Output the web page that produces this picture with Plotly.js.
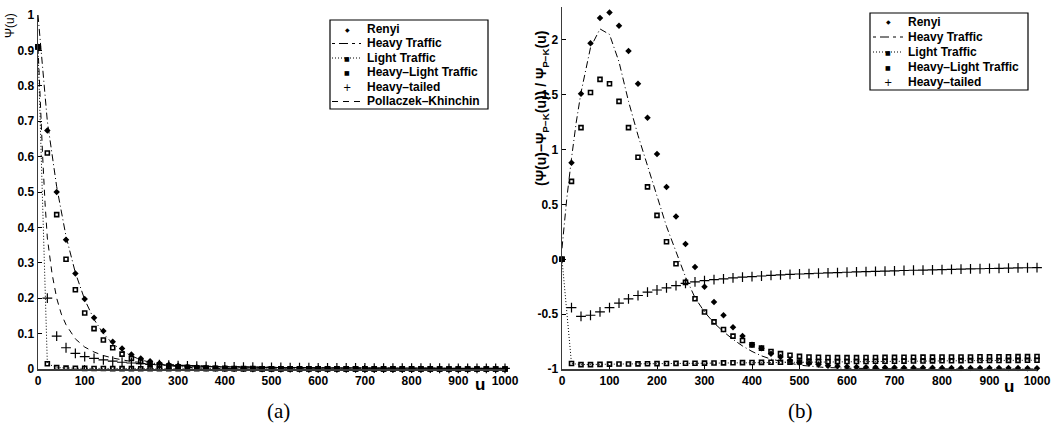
<!DOCTYPE html>
<html>
<head>
<meta charset="utf-8">
<script src="https://cdn.plot.ly/plotly-3.0.1.min.js"></script>
<style>html,body{margin:0;padding:0;background:#fff;}#chart{width:1058px;height:437px;}</style>
</head>
<body>
<div id="chart"></div>
<script>
// ---------- data ----------
const u = [0,20,40,60,80,100,120,140,160,180,200,220,240,260,280,300,320,340,360,380,400,420,440,460,480,500,520,540,560,580,600,620,640,660,680,700,720,740,760,780,800,820,840,860,880,900,920,940,960,980,1000];

// (a) ruin probability Psi(u)
const psiRenyi = [0.91,0.674,0.50,0.365,0.27,0.198,0.145,0.107,0.077,0.058,0.041,0.030,0.022,0.016,0.012,0.009,0.0065,0.005,0.0035,0.0026,0.002,0.0015,0.0011,0.0008,0.0006,0.0005,0.0004,0.0003,0.0003,0.0002,0.0002,0.0002,0.0001,0.0001,0.0001,0.0001,0.0001,0.0001,0.0001,0.0001,0.0001,0.0001,0.0001,0.0001,0.0001,0.0001,0.0001,0.0001,0.0001,0.0001,0.0001];
const psiHeavyLight = [0.91,0.61,0.436,0.31,0.224,0.158,0.114,0.082,0.06,0.042,0.03,0.021,0.015,0.011,0.008,0.006,0.0045,0.0035,0.0027,0.0021,0.0017,0.0014,0.0012,0.001,0.0009,0.0008,0.0007,0.0007,0.0006,0.0006,0.0005,0.0005,0.0005,0.0004,0.0004,0.0004,0.0004,0.0003,0.0003,0.0003,0.0003,0.0003,0.0003,0.0002,0.0002,0.0002,0.0002,0.0002,0.0002,0.0002,0.0002];
const psiLight = [0.91,0.015,0.004,0.0025,0.002,0.0017,0.0015,0.0013,0.0012,0.0011,0.001,0.0009,0.0009,0.0008,0.0008,0.0007,0.0007,0.0006,0.0006,0.0006,0.0005,0.0005,0.0005,0.0005,0.0004,0.0004,0.0004,0.0004,0.0004,0.0003,0.0003,0.0003,0.0003,0.0003,0.0003,0.0003,0.0002,0.0002,0.0002,0.0002,0.0002,0.0002,0.0002,0.0002,0.0002,0.0002,0.0001,0.0001,0.0001,0.0001,0.0001];
const psiHeavyTailed = [null,0.2,0.093,0.06,0.044,0.035,0.03,0.026,0.022,0.019,0.017,0.015,0.013,0.012,0.011,0.0095,0.0088,0.008,0.0073,0.0067,0.0062,0.0058,0.0054,0.005,0.0047,0.0044,0.0042,0.004,0.0038,0.0036,0.0034,0.0033,0.0031,0.003,0.0029,0.0028,0.0027,0.0026,0.0025,0.0024,0.0023,0.0022,0.0022,0.0021,0.002,0.002,0.0019,0.0019,0.0018,0.0018,0.0017];
const psiHeavy = [1.0,0.70,0.515,0.375,0.272,0.196,0.14,0.10,0.072,0.052,0.037,0.026,0.019,0.013,0.0095,0.0067,0.0048,0.0034,0.0024,0.0017,0.0012,0.0009,0.0006,0.0004,0.0003,0.0002,0.0002,0.0001,0.0001,0.0001,0,0,0,0,0,0,0,0,0,0,0,0,0,0,0,0,0,0,0,0,0];
const uPK = [0,5,10,15,20,30,40,50,60,80,100,120,140,160,180,200,250,300,400,500,600,700,800,900,1000];
const psiPK = [0.91,0.74,0.60,0.47,0.37,0.27,0.20,0.155,0.125,0.085,0.062,0.048,0.038,0.031,0.026,0.021,0.015,0.011,0.0068,0.0047,0.0035,0.0027,0.0021,0.0017,0.0014];

// (b) relative difference to Pollaczek-Khinchin
const relRenyi = [0,0.88,1.51,1.97,2.20,2.25,2.13,1.90,1.60,1.29,0.96,0.66,0.39,0.14,-0.07,-0.25,-0.39,-0.51,-0.62,-0.70,-0.78,-0.81,-0.86,-0.89,-0.92,-0.94,-0.95,-0.96,-0.97,-0.975,-0.98,-0.982,-0.984,-0.985,-0.986,-0.987,-0.988,-0.988,-0.989,-0.989,-0.99,-0.99,-0.99,-0.991,-0.991,-0.991,-0.992,-0.992,-0.992,-0.993,-0.993];
const relHeavyLight = [0,0.71,1.20,1.52,1.64,1.60,1.44,1.20,0.93,0.66,0.40,0.16,-0.04,-0.21,-0.36,-0.48,-0.57,-0.64,-0.70,-0.74,-0.78,-0.81,-0.84,-0.86,-0.875,-0.885,-0.89,-0.893,-0.895,-0.896,-0.896,-0.896,-0.895,-0.895,-0.894,-0.894,-0.893,-0.893,-0.892,-0.892,-0.891,-0.891,-0.89,-0.89,-0.889,-0.889,-0.888,-0.888,-0.887,-0.887,-0.886];
const relLight = [0,-0.95,-0.96,-0.96,-0.958,-0.956,-0.955,-0.954,-0.953,-0.952,-0.951,-0.95,-0.949,-0.948,-0.947,-0.946,-0.945,-0.944,-0.943,-0.942,-0.941,-0.94,-0.939,-0.938,-0.937,-0.936,-0.935,-0.934,-0.934,-0.933,-0.932,-0.931,-0.931,-0.93,-0.929,-0.929,-0.928,-0.927,-0.927,-0.926,-0.925,-0.925,-0.924,-0.923,-0.923,-0.922,-0.922,-0.921,-0.921,-0.92,-0.92];
const relHeavyTailed = [null,-0.44,-0.52,-0.51,-0.48,-0.44,-0.40,-0.36,-0.33,-0.30,-0.28,-0.26,-0.24,-0.22,-0.205,-0.195,-0.185,-0.178,-0.17,-0.163,-0.157,-0.152,-0.147,-0.142,-0.138,-0.134,-0.13,-0.127,-0.124,-0.121,-0.118,-0.115,-0.112,-0.11,-0.107,-0.105,-0.102,-0.10,-0.098,-0.096,-0.094,-0.092,-0.09,-0.088,-0.086,-0.084,-0.082,-0.08,-0.078,-0.077,-0.075];
const uHeavyRel = [0,10,20,30,40,60,80,100,120,140,160,180,200,220,240,260,280,300,320,340,360,380,400,420,440,460,480,500,550,600,700,800,900,1000];
const relHeavy = [0.10,0.55,0.92,1.25,1.52,1.93,2.10,2.05,1.80,1.44,1.13,0.85,0.57,0.30,0.07,-0.16,-0.35,-0.48,-0.58,-0.66,-0.73,-0.79,-0.84,-0.88,-0.91,-0.93,-0.95,-0.965,-0.985,-0.993,-0.998,-1.0,-1.0,-1.0];

const xTicks = [0,100,200,300,400,500,600,700,800,900,1000];
const yTicksA = [0,0.1,0.2,0.3,0.4,0.5,0.6,0.7,0.8,0.9,1];
const yTickTextA = ['0','0.1','0.2','0.3','0.4','0.5','0.6','0.7','0.8','0.9','1'];
const yTicksB = [-1,-0.5,0,0.5,1,1.5,2];
const yTickTextB = ['-1','-0.5','0','0.5','1','1.5','2'];

const namesA = ['Renyi','Heavy Traffic','Light Traffic','Heavy\u2013Light Traffic','Heavy\u2013tailed','Pollaczek\u2013Khinchin'];
const namesB = ['Renyi','Heavy Traffic','Light Traffic','Heavy\u2013Light Traffic','Heavy\u2013tailed'];

// ---------- styling ----------
const W = 1058, H = 437;
const FONT = 'Liberation Sans, Arial, Helvetica, sans-serif';
const tickFont = {family: FONT, size: 12, color: '#000', weight: 'bold'};
const mk = {
  diamond: {symbol: 'diamond', size: 5, color: '#000'},
  square: {symbol: 'square-open', size: 4, color: '#000', line: {width: 1.6, color: '#000'}},
  plus: {symbol: 'cross-thin-open', size: 7, color: '#000', line: {width: 1.2, color: '#000'}}
};
function px(x){ return x / W; }
function py(y){ return 1 - y / H; }

function panel(xa, ya, sets) {
  return sets.map(s => Object.assign({xaxis: xa, yaxis: ya, cliponaxis: false, hoverinfo: 'skip'}, s));
}

const traces = []
.concat(panel('x','y',[
  {x: uPK, y: psiPK, mode: 'lines', line: {color: '#000', width: 1, dash: '6px,5px'}},
  {x: u, y: psiHeavy, mode: 'lines', line: {color: '#000', width: 1, dash: '7px,3px,1px,3px'}},
  {x: u, y: psiLight, mode: 'lines+markers', line: {color: '#000', width: 1, dash: '1px,2px'}, marker: mk.square},
  {x: u, y: psiHeavyLight, mode: 'markers', marker: mk.square},
  {x: u, y: psiHeavyTailed, mode: 'markers', marker: mk.plus},
  {x: u, y: psiRenyi, mode: 'markers', marker: mk.diamond}
]))
.concat(panel('x2','y2',[
  {x: uHeavyRel, y: relHeavy, mode: 'lines', line: {color: '#000', width: 1, dash: '7px,3px,1px,3px'}},
  {x: u, y: relLight, mode: 'lines+markers', line: {color: '#000', width: 1, dash: '1px,2px'}, marker: mk.square},
  {x: u, y: relHeavyLight, mode: 'markers', marker: mk.square},
  {x: u, y: relHeavyTailed, mode: 'markers', marker: mk.plus},
  {x: u, y: relRenyi, mode: 'markers', marker: mk.diamond}
]));

function axisBase() {
  return {
    showgrid: false, zeroline: false, showline: true, linecolor: '#3a3a3a', linewidth: 1.5,
    ticks: 'inside', ticklen: 4, tickwidth: 1, tickcolor: '#000',
    tickfont: tickFont, fixedrange: true, mirror: false
  };
}

const layout = {
  width: W, height: H,
  margin: {l: 0, r: 0, t: 0, b: 0},
  paper_bgcolor: '#fff', plot_bgcolor: 'rgba(0,0,0,0)',
  showlegend: false,
  xaxis: Object.assign(axisBase(), {domain: [px(38), px(505)], range: [0, 1000], tickmode: 'array', tickvals: xTicks, anchor: 'y'}),
  yaxis: Object.assign(axisBase(), {domain: [py(369), py(15)], range: [0, 1], tickmode: 'array', tickvals: yTicksA, ticktext: yTickTextA, anchor: 'x'}),
  xaxis2: Object.assign(axisBase(), {domain: [px(562), px(1037)], range: [0, 1000], tickmode: 'array', tickvals: xTicks, anchor: 'y2'}),
  yaxis2: Object.assign(axisBase(), {domain: [py(369), py(7)], range: [-1, 2.3], tickmode: 'array', tickvals: yTicksB, ticktext: yTickTextB, anchor: 'x2'}),
  shapes: [],
  annotations: []
};

const ann = layout.annotations, shp = layout.shapes;
function text(x, y, t, opt) {
  ann.push(Object.assign({xref: 'paper', yref: 'paper', x: px(x), y: py(y), text: t, showarrow: false,
    xanchor: 'center', yanchor: 'middle', font: {family: FONT, size: 12, color: '#000', weight: 'bold'}}, opt || {}));
}

// axis titles and captions
text(10, 26, '\u03A8(u)', {textangle: -90, font: {family: FONT, size: 12, color: '#000'}});
text(542, 108, '(\u03A8(u)\u2212\u03A8<sub>P\u2212K</sub>(u)) / \u03A8<sub>P\u2212K</sub>(u)', {textangle: -90, font: {family: FONT, size: 14, color: '#000', weight: 'bold'}});
text(480, 384, 'u', {font: {family: FONT, size: 17, color: '#000', weight: 'bold'}});
text(1009, 386, 'u', {font: {family: FONT, size: 17, color: '#000', weight: 'bold'}});
text(278, 411, '(a)', {font: {family: 'Liberation Serif, DejaVu Serif, serif', size: 21, color: '#000'}});
text(800, 411, '(b)', {font: {family: 'Liberation Serif, DejaVu Serif, serif', size: 21, color: '#000'}});

// legends (drawn as paper-space decorations)
const legendKinds = ['diamond','dashdot','dotsquare','square','plus','dash'];
function legend(box, rows, names, symX, lineX0, lineX1, textX) {
  shp.push({type: 'rect', xref: 'paper', yref: 'paper', x0: px(box[0]), x1: px(box[2]), y0: py(box[1]), y1: py(box[3]),
    line: {color: '#000', width: 1.2}, fillcolor: '#fff', layer: 'above'});
  names.forEach((n, i) => {
    const y = rows[i], k = legendKinds[i];
    text(textX, y, n, {xanchor: 'left'});
    if (k === 'dashdot' || k === 'dotsquare' || k === 'dash') {
      shp.push({type: 'line', xref: 'paper', yref: 'paper', x0: px(lineX0), x1: px(lineX1), y0: py(y), y1: py(y),
        line: {color: '#000', width: 1, dash: k === 'dashdot' ? '3px,4px,9px,4px' : (k === 'dash' ? '6px,5px' : '1px,2px')}, layer: 'above'});
    }
    if (k === 'diamond') text(symX, y, '\u25C6', {font: {family: 'DejaVu Sans', size: 6, color: '#000'}});
    if (k === 'dotsquare' || k === 'square') text(symX, y, '\u25A0', {font: {family: 'DejaVu Sans', size: 6, color: '#000'}});
    if (k === 'plus') text(symX, y, '+', {font: {family: 'DejaVu Sans', size: 10, color: '#000'}});
  });
}
legend([330, 20, 488, 109], [29, 43.5, 58, 72.5, 87, 101.5], namesA, 347, 332, 361, 365);
legend([870, 13, 1028, 90], [22, 37, 52, 67, 82], namesB, 888, 873, 903, 906);

Plotly.newPlot('chart', traces, layout, {staticPlot: true, displayModeBar: false});
</script>
</body>
</html>
